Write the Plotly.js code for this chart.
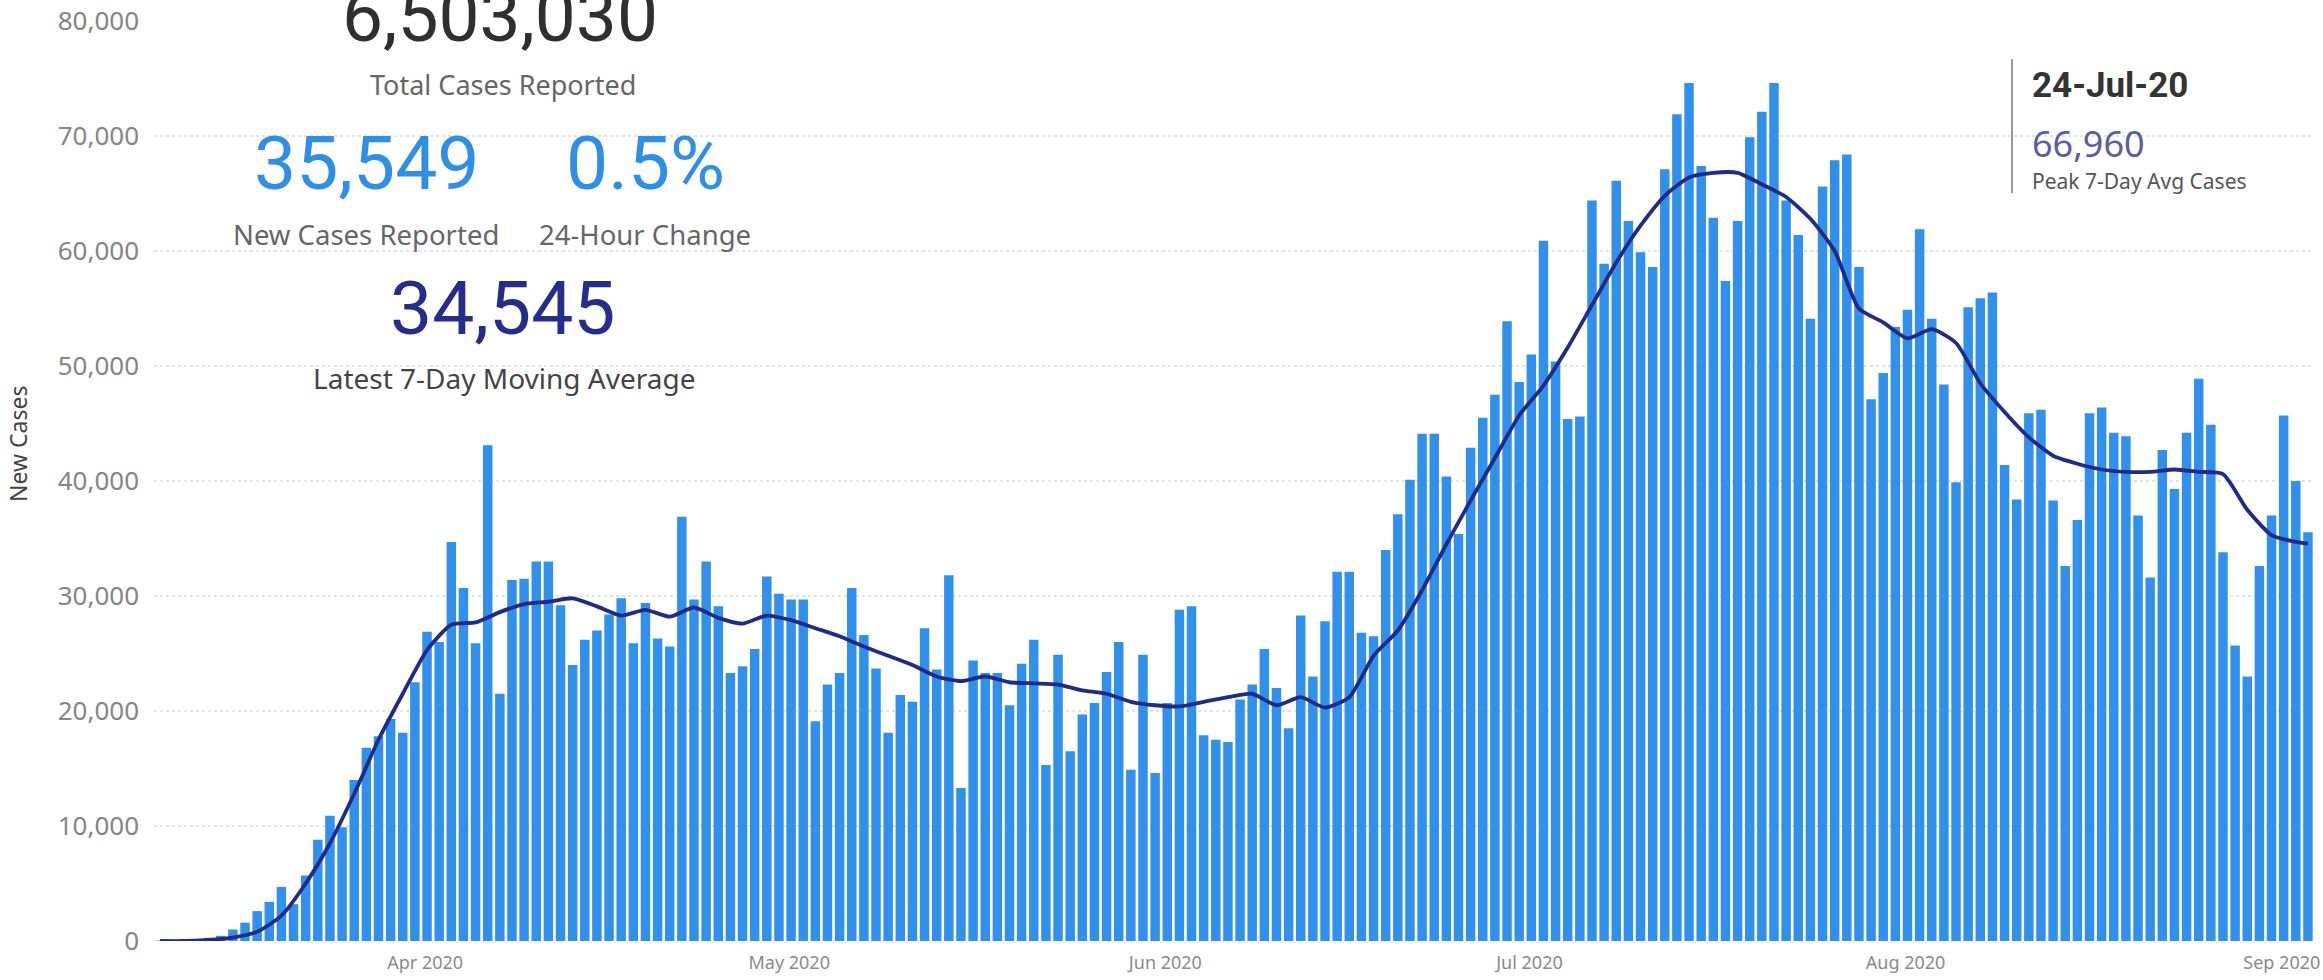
<!DOCTYPE html>
<html>
<head>
<meta charset="utf-8">
<script src="https://cdn.plot.ly/plotly-3.0.1.min.js"></script>
<style>
  html, body { margin: 0; padding: 0; background: #ffffff; }
  #chart { width: 2323px; height: 980px; }
</style>
</head>
<body>
<div id="chart"></div>
<script>
// ---------- data ----------
const startDate = '2020-03-09';

// daily new cases, one bar per day
const newCases = [
  40, 70, 110, 180, 280, 450, 1000, 1600, 2600, 3400, 4700, 3200, 5700, 8800, 10900, 9900,
  14000, 16800, 17800, 19300, 18100, 22500, 26900, 26000, 34700, 30700,
  25900, 43100, 21500, 31400, 31500, 33000, 33000, 29200, 24000, 26200, 27000, 28400,
  29800, 25900, 29400, 26300, 25600, 36900, 29700, 33000, 29100, 23300, 23900, 25400,
  31700, 30200, 29700, 29700, 19100, 22300, 23300, 30700, 26600, 23700, 18100, 21400,
  20800, 27200, 23600, 31800, 13300, 24400, 23300, 23300, 20500, 24100, 26200, 15300,
  24900, 16500, 19700, 20700,
  23400, 26000, 14900, 24900, 14600, 20700, 28800, 29100, 17900, 17500, 17300, 21000,
  22300, 25400, 22000, 18500, 28300, 23000, 27800, 32100, 32100, 26800, 26500, 34000,
  37100, 40100, 44100, 44100, 40400, 35400, 42900, 45500, 47500, 53900, 48600, 51000,
  60900, 50400, 45400, 45600, 64400, 58900, 66100, 62600, 59900, 58600, 67100, 71900,
  74600, 67400, 62900, 57400, 62600,
  69900, 72100, 74600, 64400, 61400, 54100, 65600, 67900, 68400, 58600, 47100, 49400,
  53400, 54900, 61900,
  54100, 48400, 39900, 55100, 55900, 56400, 41400, 38400, 45900, 46200, 38300, 32600,
  36600, 45900, 46400, 44200, 43900, 37000, 31600, 42700, 39300, 44200, 48900, 44900,
  33800, 25700, 23000, 32600, 37000, 45700, 40000, 35549
];

// 7-day moving average (day offset from startDate, value)
const avgDays = [
  0, 2, 4, 6, 8, 10, 12, 14, 16, 18, 20, 22, 24, 26, 28, 30, 32, 34, 36, 38, 40, 42, 44, 46,
  48, 50, 52, 54, 56, 58, 60, 62, 64, 66, 68, 70, 72, 74, 76, 78, 80, 82, 84, 86, 88, 90,
  92, 94, 96, 98, 100, 102, 104, 106, 108, 110, 112, 114, 116, 118, 120, 122, 124, 126,
  128, 130, 132, 134, 136, 138, 140, 142, 144, 146, 148, 150, 152, 154, 156, 158, 160,
  162, 164, 166, 168, 170, 172, 174, 176, 177
];
const avgValues = [
  0, 0, 100, 300, 800, 2200, 5000, 8500, 12800, 17500, 21500, 25300, 27500, 27700, 28600,
  29300, 29500, 29800, 29100, 28300, 28800, 28200, 29000, 28100, 27600, 28300, 27900,
  27200, 26500, 25600, 24800, 24000, 23000, 22600, 23000, 22500, 22400, 22300, 21800,
  21500, 20800, 20500, 20400, 20800, 21200, 21500, 20500, 21200, 20300, 21200, 24800,
  27000, 30500, 34500, 38300, 42000, 45700, 48300, 51600, 55300, 59000, 62200, 64800,
  66400, 66800, 66800, 65800, 64700, 62800, 60000, 55000, 53800, 52400, 53200, 52000,
  48500, 46000, 43800, 42200, 41500, 41000, 40800, 40800, 41000, 40800, 40600, 37500,
  35300, 34700, 34545
];

// card texts
const totalCases = '6,503,030';
const newReported = '35,549';
const dayChange = '0.5%';
const latestAvg = '34,545';
const peakDate = '24-Jul-20';
const peakAvg = '66,960';

const yTicks = [0, 10000, 20000, 30000, 40000, 50000, 60000, 70000, 80000];

// ---------- helpers ----------
function dayStr(offset) {
  const t = Date.parse(startDate + 'T00:00:00Z') + offset * 86400000;
  const d = new Date(t);
  const p = n => String(n).padStart(2, '0');
  return d.getUTCFullYear() + '-' + p(d.getUTCMonth() + 1) + '-' + p(d.getUTCDate()) +
         ' ' + p(d.getUTCHours()) + ':00';
}
const barDates = newCases.map((_, i) => dayStr(i));
const avgDates = avgDays.map(d => dayStr(d));

// ---------- traces ----------
const bars = {
  type: 'bar',
  x: barDates,
  y: newCases,
  marker: { color: '#3190EB', line: { width: 0 } },
  hoverinfo: 'skip'
};
const avgLine = {
  type: 'scatter',
  mode: 'lines',
  x: avgDates,
  y: avgValues,
  line: { color: '#202A88', width: 3.8, shape: 'spline', smoothing: 0.6 },
  hoverinfo: 'skip'
};

// pixel -> paper helpers for the plot box
const W = 2323, H = 980;
const mL = 154, mR = 9, mT = 21, mB = 39;
const pw = W - mL - mR, ph = H - mT - mB;
const px = x => (x - mL) / pw;
const py = y => (H - mB - y) / ph;

const cardFont = 'Roboto, "DejaVu Sans", sans-serif';
const labelFont = '"Segoe UI", "Noto Sans", "Open Sans", sans-serif';

const annotations = [
  { text: totalCases, x: px(500), y: py(16), font: { family: cardFont, size: 73, color: '#2f2f2f' } },
  { text: 'Total Cases Reported', x: px(503), y: py(84), font: { family: labelFont, size: 27, color: '#666666' } },
  { text: newReported, x: px(367), y: py(163), font: { family: cardFont, size: 75, color: '#2F8FE6' } },
  { text: dayChange, x: px(645), y: py(163), font: { family: cardFont, size: 75, color: '#2F8FE6' } },
  { text: 'New Cases Reported', x: px(366), y: py(234), font: { family: labelFont, size: 27.5, color: '#666666' } },
  { text: '24-Hour Change', x: px(645), y: py(234), font: { family: labelFont, size: 27.5, color: '#666666' } },
  { text: latestAvg, x: px(503), y: py(308), font: { family: cardFont, size: 75, color: '#252C8C' } },
  { text: 'Latest 7-Day Moving Average', x: px(504), y: py(378), font: { family: labelFont, size: 28, color: '#444444' } },
  { text: '<b>' + peakDate + '</b>', x: px(2030), y: py(86), xanchor: 'left', font: { family: cardFont, size: 35, color: '#333333' } },
  { text: peakAvg, x: px(2030), y: py(144), xanchor: 'left', font: { family: labelFont, size: 36, color: '#5A5FA5' } },
  { text: 'Peak 7-Day Avg Cases', x: px(2030), y: py(181), xanchor: 'left', font: { family: labelFont, size: 21, color: '#555555' } },
  { text: 'New Cases', x: px(18), y: py(444), textangle: -90, font: { family: labelFont, size: 23, color: '#444444' } }
].map(a => Object.assign({ xref: 'paper', yref: 'paper', showarrow: false, xanchor: 'center', yanchor: 'middle' }, a));

const layout = {
  width: W,
  height: H,
  margin: { l: mL, r: mR, t: mT, b: mB, pad: 0 },
  paper_bgcolor: '#ffffff',
  plot_bgcolor: '#ffffff',
  showlegend: false,
  bargap: 0.22,
  xaxis: {
    type: 'date',
    range: [dayStr(-0.5), dayStr(newCases.length - 0.5)],
    tick0: '2020-04-01',
    dtick: 'M1',
    tickformat: '%b %Y',
    showgrid: false,
    zeroline: false,
    showline: false,
    ticks: '',
    ticklabelstandoff: 9,
    ticklabelshift: -14,
    ticklabeloverflow: 'allow',
    tickfont: { family: labelFont, size: 18, color: '#8a8a8a' }
  },
  yaxis: {
    range: [0, 80000],
    tickvals: yTicks,
    tickformat: ',d',
    showgrid: true,
    gridcolor: '#e3e3e3',
    griddash: 'dot',
    gridwidth: 1.5,
    zeroline: false,
    showline: false,
    ticks: '',
    ticklabelstandoff: 14,
    tickfont: { family: labelFont, size: 26, color: '#858585' }
  },
  shapes: [
    { type: 'line', xref: 'paper', yref: 'paper', x0: px(2012), x1: px(2012), y0: py(59), y1: py(193),
      line: { color: '#9a9a9a', width: 2 } }
  ],
  annotations: annotations
};

Plotly.newPlot('chart', [bars, avgLine], layout, { staticPlot: true, displayModeBar: false });
</script>
</body>
</html>
